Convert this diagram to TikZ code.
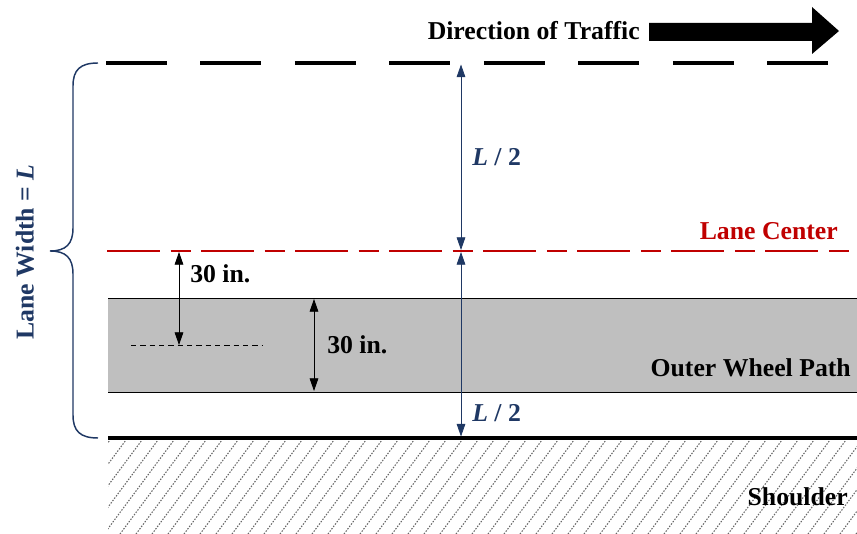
\documentclass[tikz,border=0pt]{standalone}
\usepackage{fontspec}
\setmainfont{Liberation Serif}
\usetikzlibrary{arrows.meta}
\definecolor{navy}{RGB}{31,56,100}
\definecolor{lanered}{RGB}{192,0,0}
\definecolor{pathgray}{RGB}{191,191,191}
\tikzset{
  lbl/.style={font=\fontsize{19.3}{23}\selectfont\bfseries, inner sep=0pt},
  dimarrow/.style={line width=0.8pt, {Triangle[length=9.5pt,width=6.5pt]}-{Triangle[length=9.5pt,width=6.5pt]}},
  bluearrow/.style={dimarrow, draw=navy, fill=navy, line width=0.6pt},
  blackarrow/.style={dimarrow, draw=black, line width=0.6pt},
  hatch/.style={draw=black!60, line width=0.8pt, dash pattern=on 1.1pt off 1.1pt},
}
\begin{document}
\begin{tikzpicture}[x=0.75pt,y=-0.75pt]
\useasboundingbox (0,0) rectangle (857,534);
% coordinates
\coordinate (tl) at (106,63);
\coordinate (tr) at (828,63);
\coordinate (rl) at (107,251);
\coordinate (rr) at (852,251);
\coordinate (bl) at (108,438);
\coordinate (br) at (857,438);
% wheel path band
\fill[pathgray] (108,298) rectangle (857,392);
\draw[line width=0.6pt] (108,298) -- (857,298);
\draw[line width=0.6pt] (108,392) -- (857,392);
% hatching
\begin{scope}
\clip (108,440.5) rectangle (857,534);
\foreach \i in {0,...,52} {
  \draw[hatch] (40+16*\i,534) -- (110+16*\i,440);
}
\end{scope}
% lines
\draw[line width=2.4pt, dash pattern=on 45.75pt off 25.1pt] (tl) -- (tr);
\draw[lanered, line width=1.8pt, dash pattern=on 39.75pt off 7.9pt on 15pt off 7.9pt] (rl) -- (rr);
\draw[line width=3pt] (bl) -- (br);
% direction of traffic
\node[lbl, anchor=east] (dir) at (640,31) {Direction of Traffic};
\fill (649,23) -- (812,23) -- (812,7) -- (839,31) -- (812,54) -- (812,41) -- (649,41) -- cycle;
% labels
\node[lbl, text=lanered, anchor=east] (lc) at (838,231) {Lane Center};
\node[lbl, anchor=east] (owp) at (851,368) {Outer Wheel Path};
\node[lbl, anchor=east] (sh) at (848,497) {Shoulder};
% blue dimension arrows
\coordinate (a1) at (461,64.5);
\coordinate (a2) at (461,250);
\coordinate (a3) at (461,252);
\coordinate (a4) at (461,436.5);
\draw[bluearrow] (a1) -- (a2);
\draw[bluearrow] (a3) -- (a4);
\node[lbl, text=navy, anchor=west] (h1) at (472,157) {\textit{L} / 2};
\node[lbl, text=navy, anchor=west] (h2) at (472,413) {\textit{L} / 2};
% 30 in arrows
\draw[line width=0.6pt, dash pattern=on 4pt off 3pt] (131,345) -- (262,345);
\coordinate (b1) at (179,252);
\coordinate (b2) at (179,345);
\draw[blackarrow] (b1) -- (b2);
\node[lbl, anchor=west] (t1) at (190,274) {30 in.};
\coordinate (c1) at (314,299);
\coordinate (c2) at (314,391);
\draw[blackarrow] (c1) -- (c2);
\node[lbl, anchor=west] (t2) at (327,345) {30 in.};
% brace
\draw[navy, line width=1.1pt] (98,63) .. controls (80,63) and (73,70) .. (73,86) -- (73,228)
  .. controls (73,244) and (66,251) .. (50,251)
  .. controls (66,251) and (73,258) .. (73,274) -- (73,415)
  .. controls (73,431) and (80,438) .. (98,438);
\node[lbl, text=navy, rotate=90] (lw) at (25,252) {Lane Width = \textit{L}};
\end{tikzpicture}
\end{document}
